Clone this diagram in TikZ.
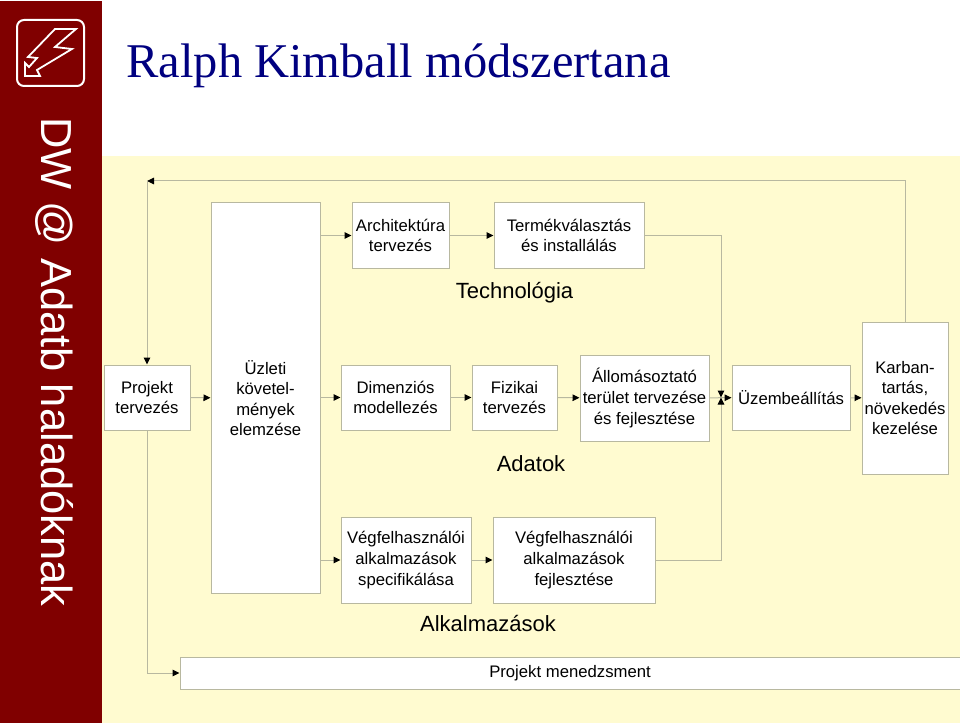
\documentclass[tikz,border=0pt]{standalone}
\usepackage{fontspec}
\setmainfont{Liberation Sans}
\newfontfamily\serifcim{Liberation Serif}
\usetikzlibrary{arrows.meta}
\begin{document}
\begin{tikzpicture}[x=1pt,y=-1pt,thick,
	doboz/.style={draw=Vonal,fill=white,line width=1pt,inner sep=0pt,align=center,font=\fontsize{16.7}{20.6}\selectfont},
	felirat/.style={inner sep=0pt,font=\fontsize{22}{26}\selectfont},
	nyil/.style={draw=Vonal,line width=1pt,-{Triangle[length=7pt,width=6.5pt,black]}}]
	\definecolor{Vonal}{RGB}{184,184,160}
	\definecolor{Bordo}{RGB}{128,0,0}
	\definecolor{Hatter}{RGB}{255,251,208}
	\definecolor{Cim}{RGB}{0,0,128}
	\useasboundingbox (0,0) rectangle (960,727);
	% hatter es oldalsav
	\fill[Hatter] (102,156) rectangle (960,723);
	\fill[Bordo] (0,1) rectangle (102,723);
	\draw[white,line width=2pt,rounded corners=7pt] (17,20) rectangle (84,86);
	\draw[white,line width=1.8pt,line join=miter] (55,29) -- (76,29) -- (55,47) -- (72,49) -- (37,70) -- (40,76) -- (25,76) -- (25,63) -- (29,67) -- (37,58) -- (28,57) -- cycle;
	\node[white,rotate=-90,inner sep=0pt,font=\fontsize{43.5}{50}\selectfont] (oldal) at (55,362) {DW @ Adatb haladóknak};
	\node[Cim,inner sep=0pt,anchor=west,font=\serifcim\fontsize{48.5}{54}\selectfont] (cim) at (126,66) {Ralph Kimball módszertana};
	% dobozok
	\node[doboz,minimum width=86pt,minimum height=65pt] (Projekt) at (147,397.5) {Projekt\\tervezés};
	\node[doboz,minimum width=109pt,minimum height=390pt] (Uzleti) at (265.5,398) {Üzleti\\követel-\\mények\\elemzése};
	\node[doboz,minimum width=97pt,minimum height=65pt] (Arch) at (400.5,235.5) {Architektúra\\tervezés};
	\node[doboz,minimum width=150pt,minimum height=65pt] (Termek) at (569,235.5) {Termékválasztás\\és installálás};
	\node[doboz,minimum width=109pt,minimum height=65pt] (Dim) at (395.5,397.5) {Dimenziós\\modellezés};
	\node[doboz,minimum width=85pt,minimum height=65pt] (Fizikai) at (514.5,397.5) {Fizikai\\tervezés};
	\node[doboz,minimum width=129pt,minimum height=86pt] (Allomas) at (644.5,398) {Állomásoztató\\terület tervezése\\és fejlesztése};
	\node[doboz,minimum width=118pt,minimum height=65pt] (Uzem) at (791,397.5) {Üzembeállítás};
	\node[doboz,minimum width=86pt,minimum height=152pt] (Karban) at (905,398) {Karban-\\tartás,\\növekedés\\kezelése};
	\node[doboz,minimum width=130pt,minimum height=86pt] (Vegf) at (406,560) {Végfelhasználói\\alkalmazások\\specifikálása};
	\node[doboz,minimum width=162pt,minimum height=86pt] (Fejl) at (574,560) {Végfelhasználói\\alkalmazások\\fejlesztése};
	\node[doboz,minimum width=780pt,minimum height=32pt] (Menedzs) at (570,673) {Projekt menedzsment};
	% feliratok
	\node[felirat] (Tech) at (514.5,293) {Technológia};
	\node[felirat] (Adatok) at (531,464) {Adatok};
	\node[felirat] (Alk) at (488,624) {Alkalmazások};
	% segedpontok
	\coordinate (TermekSarok) at (721,235.5);
	\coordinate (FejlSarok) at (721,560);
	\coordinate (FentJobb) at (905,181);
	\coordinate (FentBal) at (147,181);
	\coordinate (LentBal) at (147,673);
	\coordinate (Kozep) at (721,397.5);
	% nyilak
	\draw[nyil] (Projekt) -- (Uzleti);
	\draw[nyil] (Uzleti.east |- Arch) -- (Arch);
	\draw[nyil] (Uzleti.east |- Dim) -- (Dim);
	\draw[nyil] (Uzleti.east |- Vegf) -- (Vegf);
	\draw[nyil] (Arch) -- (Termek);
	\draw[nyil] (Dim) -- (Fizikai);
	\draw[nyil] (Fizikai) -- (Allomas);
	\draw[nyil] (Vegf) -- (Fejl);
	\draw[nyil] (Allomas) -- (Uzem);
	\draw[nyil] (Uzem) -- (Karban);
	\draw[nyil] (Termek) -- (TermekSarok) -- (Kozep);
	\draw[nyil] (Fejl) -- (FejlSarok) -- (Kozep);
	\draw[nyil] (Karban.north) -- (FentJobb) -- (FentBal);
	\draw[nyil] (FentBal) -- (Projekt);
	\draw[nyil] (Projekt) -- (LentBal) -- (Menedzs.west |- LentBal);
\end{tikzpicture}
\end{document}
